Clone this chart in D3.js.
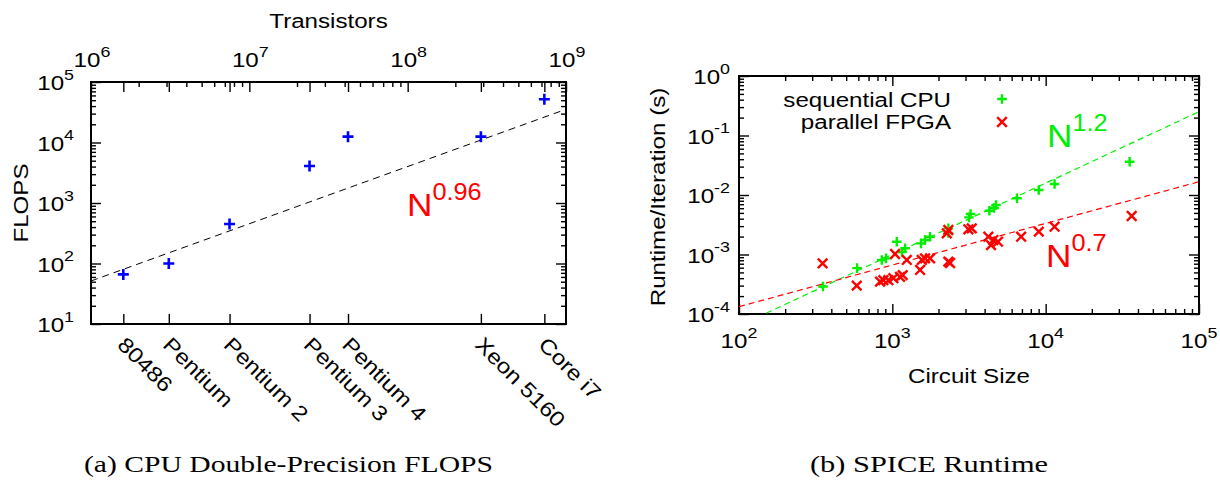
<!DOCTYPE html>
<html>
<head>
<meta charset="utf-8">
<script src="https://cdn.jsdelivr.net/npm/d3@7"></script>
<style>
  body { margin: 0; background: #fff; }
  text { font-family: "Liberation Sans", Arial, sans-serif; fill: #000; }
  text.cap { font-family: "Liberation Serif", "DejaVu Serif", serif; }
</style>
</head>
<body>
<svg></svg>
<script>
// (a) CPU FLOPS vs transistors
const cpuNames = ["80486", "Pentium", "Pentium 2", "Pentium 3", "Pentium 4", "Xeon 5160", "Core i7"];
const cpuTransistors = [1.6e6, 3.1e6, 7.5e6, 2.4e7, 4.2e7, 2.9e8, 7.3e8];
const cpuFlops = [66, 100, 450, 4100, 12500, 12500, 52000];
const flopsFitExp = 0.946, flopsFitLogC = -3.965;

// (b) SPICE runtime vs circuit size
const cpuSize = [353, 589, 853, 910, 1069, 1211, 1156, 1538, 1633, 1762, 2318, 2318, 3162, 3236, 4295, 4606, 4745, 6500, 9015, 11430, 35300];
const cpuTime = [2.9e-4, 5.9e-4, 8.1e-4, 8.6e-4, 1.64e-3, 1.27e-3, 1.1e-3, 1.54e-3, 1.75e-3, 1.99e-3, 2.75e-3, 2.3e-3, 4.2e-3, 4.8e-3, 5.45e-3, 6.05e-3, 6.8e-3, 8.8e-3, 1.21e-2, 1.53e-2, 3.63e-2];
const fpgaSize = [351, 586, 832, 874, 942, 1016, 1123, 1169, 1042, 1242, 1517, 1556, 1634, 1762, 2265, 2319, 2319, 2380, 3133, 3296, 4227, 4558, 4890, 4403, 6920, 9020, 11430, 36400];
const fpgaTime = [7.1e-4, 3.0e-4, 3.5e-4, 3.7e-4, 3.7e-4, 4.0e-4, 4.2e-4, 4.5e-4, 1.02e-3, 8.1e-4, 5.5e-4, 8.1e-4, 8.6e-4, 8.6e-4, 2.27e-3, 2.58e-3, 7.6e-4, 7.2e-4, 2.65e-3, 2.75e-3, 1.99e-3, 1.75e-3, 1.64e-3, 1.44e-3, 1.99e-3, 2.42e-3, 2.93e-3, 4.44e-3];
const cpuFitExp = 1.2, cpuFitLogC = -6.6;
const fpgaFitExp = 0.7, fpgaFitLogC = -5.277;

const SX = 1.15, FS = 21;
const GREEN = "#00ee00", RED = "#ff0000", BLUE = "#0000ff";

const svg = d3.select("svg").attr("width", 1220).attr("height", 482);

const txt = (g, x, y, s, o = {}) => {
  const size = o.size || FS;
  const t = g.append("text")
    .attr("transform", `translate(${x},${y}) rotate(${o.rot || 0}) scale(${o.sx || SX},1)`)
    .attr("text-anchor", o.anchor || "start").style("font-size", size + "px");
  if (o.fill) t.style("fill", o.fill);
  t.append("tspan").text(s);
  if (o.sup !== undefined) {
    t.append("tspan").attr("dy", -(o.raise || size * 0.48))
      .style("font-size", (o.supSize || size * 0.74) + "px").text(o.sup);
  }
  return t;
};

const tickRow = (g, axisFn, scale, vals, size, tx, ty) => {
  g.append("g").attr("transform", `translate(${tx},${ty})`)
    .call(axisFn(scale).tickValues(vals).tickSize(size).tickSizeOuter(0).tickFormat(""))
    .call(a => a.select(".domain").remove())
    .selectAll("line").attr("stroke", "#000").attr("stroke-width", 1.4);
};

const isMajor = v => Math.abs(Math.log10(v) - Math.round(Math.log10(v))) < 1e-9;
const majors = s => s.ticks().filter(isMajor);
const minors = s => s.ticks().filter(v => !isMajor(v));
const expOf = v => String(Math.round(Math.log10(v)));

const plus = (g, x, y, r, color, w) => g.append("path")
  .attr("d", `M${x - r},${y}H${x + r}M${x},${y - r}V${y + r}`)
  .attr("stroke", color).attr("stroke-width", w).attr("fill", "none");
const cross = (g, x, y, r, color, w) => g.append("path")
  .attr("d", `M${x - r},${y - r}L${x + r},${y + r}M${x - r},${y + r}L${x + r},${y - r}`)
  .attr("stroke", color).attr("stroke-width", w).attr("fill", "none");

// ---------- panel (a) ----------
const pa = svg.append("g");
const xT = d3.scaleLog().domain([1e6, 1e9]).range([91, 566]);
const yF = d3.scaleLog().domain([1e1, 1e5]).range([324, 82]);
const [aL, aR] = xT.range(), [aB, aT] = yF.range();

tickRow(pa, d3.axisLeft, yF, majors(yF), -10, aL, 0);
tickRow(pa, d3.axisLeft, yF, minors(yF), -5, aL, 0);
tickRow(pa, d3.axisRight, yF, majors(yF), -10, aR, 0);
tickRow(pa, d3.axisRight, yF, minors(yF), -5, aR, 0);
tickRow(pa, d3.axisTop, xT, majors(xT), -10, 0, aT);
tickRow(pa, d3.axisTop, xT, minors(xT), -5, 0, aT);
tickRow(pa, d3.axisBottom, xT, cpuTransistors, -10, 0, aB);
tickRow(pa, d3.axisTop, xT, cpuTransistors, -10, 0, aT);

pa.append("rect").attr("x", aL).attr("y", aT).attr("width", aR - aL).attr("height", aB - aT)
  .attr("fill", "none").attr("stroke", "#000").attr("stroke-width", 2);

majors(yF).forEach(v => txt(pa, aL - 17, yF(v) + 8, "10", { sup: expOf(v), anchor: "end" }));
majors(xT).forEach(v => txt(pa, xT(v) + 1, aT - 15, "10", { sup: expOf(v), anchor: "middle" }));
cpuNames.forEach((n, i) => txt(pa, xT(cpuTransistors[i]) - 7, aB + 22, n, { rot: 45 }));

txt(pa, (aL + aR) / 2, 28, "Transistors", { anchor: "middle" });
txt(pa, 28, (aT + aB) / 2, "FLOPS", { anchor: "middle", rot: -90 });

const lineA = d3.line().x(d => xT(d)).y(d => yF(Math.pow(10, flopsFitLogC) * Math.pow(d, flopsFitExp)));
pa.append("path").attr("d", lineA(xT.domain())).attr("fill", "none")
  .attr("stroke", "#000").attr("stroke-width", 1).attr("stroke-dasharray", "7,5");

cpuNames.forEach((n, i) => plus(pa, xT(cpuTransistors[i]), yF(cpuFlops[i]), 5.5, BLUE, 2.6));

txt(pa, 407, 216, "N", { size: 32, sx: 1.1, fill: RED, sup: "0.96", raise: 16, supSize: 23 });

// ---------- panel (b) ----------
const pb = svg.append("g");
const xC = d3.scaleLog().domain([1e2, 1e5]).range([739, 1199]);
const yR = d3.scaleLog().domain([1e-4, 1]).range([314, 76]);
const [bL, bR] = xC.range(), [bB, bT] = yR.range();

svg.append("clipPath").attr("id", "clipb").append("rect")
  .attr("x", bL).attr("y", bT).attr("width", bR - bL).attr("height", bB - bT);

tickRow(pb, d3.axisLeft, yR, majors(yR), -10, bL, 0);
tickRow(pb, d3.axisLeft, yR, minors(yR), -5, bL, 0);
tickRow(pb, d3.axisRight, yR, majors(yR), -10, bR, 0);
tickRow(pb, d3.axisRight, yR, minors(yR), -5, bR, 0);
tickRow(pb, d3.axisBottom, xC, majors(xC), -10, 0, bB);
tickRow(pb, d3.axisBottom, xC, minors(xC), -5, 0, bB);
tickRow(pb, d3.axisTop, xC, majors(xC), -10, 0, bT);
tickRow(pb, d3.axisTop, xC, minors(xC), -5, 0, bT);

pb.append("rect").attr("x", bL).attr("y", bT).attr("width", bR - bL).attr("height", bB - bT)
  .attr("fill", "none").attr("stroke", "#000").attr("stroke-width", 2);

majors(yR).forEach(v => txt(pb, bL - 9, yR(v) + 8, "10", { sup: expOf(v), anchor: "end" }));
majors(xC).forEach(v => txt(pb, xC(v), bB + 34, "10", { sup: expOf(v), anchor: "middle" }));

txt(pb, (bL + bR) / 2, 383, "Circuit Size", { anchor: "middle" });
txt(pb, 665, 197, "Runtime/Iteration (s)", { anchor: "middle", rot: -90 });

const fits = pb.append("g").attr("clip-path", "url(#clipb)");
const fitLine = (exp, logC) => d3.line().x(d => xC(d)).y(d => yR(Math.pow(10, logC) * Math.pow(d, exp)));
fits.append("path").attr("d", fitLine(cpuFitExp, cpuFitLogC)(xC.domain())).attr("fill", "none")
  .attr("stroke", GREEN).attr("stroke-width", 1.2).attr("stroke-dasharray", "6,4");
fits.append("path").attr("d", fitLine(fpgaFitExp, fpgaFitLogC)(xC.domain())).attr("fill", "none")
  .attr("stroke", RED).attr("stroke-width", 1.2).attr("stroke-dasharray", "6,4");

cpuSize.forEach((n, i) => plus(pb, xC(n), yR(cpuTime[i]), 4.8, GREEN, 2.4));
fpgaSize.forEach((n, i) => cross(pb, xC(n), yR(fpgaTime[i]), 4.8, RED, 2.4));

txt(pb, 951, 107, "sequential CPU", { anchor: "end" });
txt(pb, 951, 129, "parallel FPGA", { anchor: "end" });
plus(pb, 1002, 99, 4.8, GREEN, 2.4);
cross(pb, 1002, 122, 4.8, RED, 2.4);

txt(pb, 1047, 147, "N", { size: 32, sx: 1.1, fill: GREEN, sup: "1.2", raise: 16, supSize: 23 });
txt(pb, 1046, 267, "N", { size: 32, sx: 1.1, fill: RED, sup: "0.7", raise: 16, supSize: 23 });

// captions
svg.append("text").attr("class", "cap").attr("x", 84).attr("y", 472).style("font-size", "23.5px")
  .attr("textLength", 409).attr("lengthAdjust", "spacingAndGlyphs").text("(a) CPU Double-Precision FLOPS");
svg.append("text").attr("class", "cap").attr("x", 810).attr("y", 472).style("font-size", "23.5px")
  .attr("textLength", 238).attr("lengthAdjust", "spacingAndGlyphs").text("(b) SPICE Runtime");
</script>
</body>
</html>
